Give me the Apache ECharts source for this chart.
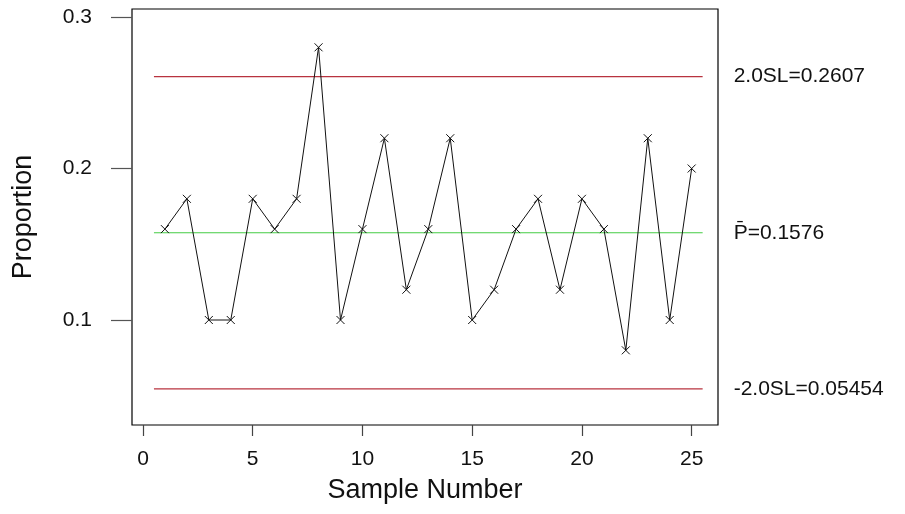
<!DOCTYPE html>
<html>
<head>
<meta charset="utf-8">
<script src="https://cdn.jsdelivr.net/npm/echarts@6/dist/echarts.min.js"></script>
<style>
  html, body { margin: 0; padding: 0; background: #fff; }
  #chart { width: 905px; height: 514px; }
</style>
</head>
<body>
<div id="chart"></div>
<script>
// sample proportions
const samples = [1, 2, 3, 4, 5, 6, 7, 8, 9, 10, 11, 12, 13, 14, 15, 16, 17, 18, 19, 20, 21, 22, 23, 24, 25]
const proportions = [0.16, 0.18, 0.10, 0.10, 0.18, 0.16, 0.18, 0.28, 0.10, 0.16, 0.22, 0.12, 0.16,
    0.22, 0.10, 0.12, 0.16, 0.18, 0.12, 0.18, 0.16, 0.08, 0.22, 0.10, 0.20]

// control limits
const limitSpan = [0.5, 25.5]
const limitValues = [0.2607, 0.1576, 0.05454]
const limitLabels = ['2.0SL=0.2607', 'P\u0304=0.1576', '-2.0SL=0.05454']
const limitColors = ['#b8333f', '#44cc44', '#b8333f']

// tick labels
const xTicks = [0, 5, 10, 15, 20, 25]
const yTicks = [0.1, 0.2, 0.3]

const font = 'Liberation Sans, Arial, sans-serif'

let limitSeries = limitValues.map(function(v, i) {
    return {
        type: 'line',
        silent: true,
        symbol: 'none',
        lineStyle: { color: limitColors[i], width: 1.2 },
        data: [[limitSpan[0], v], [limitSpan[1], v]],
        endLabel: {
            show: true,
            formatter: limitLabels[i],
            distance: 31,
            color: '#111',
            fontSize: 21,
            fontFamily: font
        },
        z: 1
    }
})

const option = {
    animation: false,
    grid: {
        left: 132,
        top: 9,
        right: 187,
        bottom: 89,
        show: true,
        borderColor: '#000',
        borderWidth: 1.2
    },
    xAxis: {
        type: 'value',
        min: -0.5,
        max: 26.2,
        name: 'Sample Number',
        nameLocation: 'middle',
        nameGap: 52,
        nameTextStyle: { fontSize: 27, fontFamily: font, color: '#111' },
        splitLine: { show: false },
        axisLine: { show: false, onZero: false },
        axisTick: {
            show: true,
            length: 11,
            customValues: xTicks,
            lineStyle: { color: '#444', width: 1.2 }
        },
        axisLabel: {
            customValues: xTicks,
            margin: 24,
            fontSize: 21,
            fontFamily: font,
            color: '#111'
        }
    },
    yAxis: {
        type: 'value',
        min: 0.0307,
        max: 0.3053,
        name: 'Proportion',
        nameLocation: 'middle',
        nameGap: 95,
        nameTextStyle: { fontSize: 27, fontFamily: font, color: '#111' },
        splitLine: { show: false },
        axisLine: { show: false, onZero: false },
        axisTick: {
            show: true,
            length: 21,
            customValues: yTicks,
            lineStyle: { color: '#555', width: 1.2 }
        },
        axisLabel: {
            customValues: yTicks,
            margin: 40,
            fontSize: 21,
            fontFamily: font,
            color: '#111',
            formatter: function(v) { return v.toFixed(1) }
        }
    },
    series: limitSeries.concat([{
        type: 'line',
        silent: true,
        data: samples.map(function(s, i) { return [s, proportions[i]] }),
        lineStyle: { color: '#111', width: 1 },
        symbol: 'path://M0,0L10,10M10,0L0,10',
        symbolSize: 8,
        itemStyle: { color: 'transparent', borderColor: '#111', borderWidth: 1 },
        z: 3
    }])
}

let chart = echarts.init(document.getElementById('chart'))
chart.setOption(option)
</script>
</body>
</html>
